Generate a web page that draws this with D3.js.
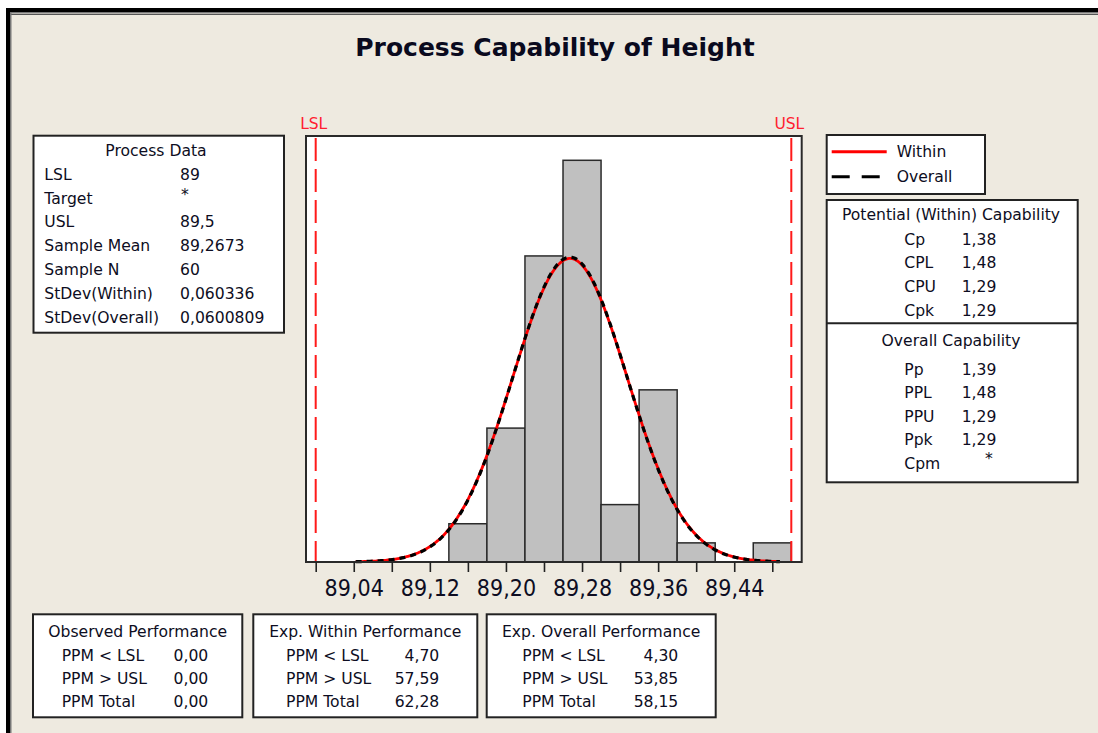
<!DOCTYPE html>
<html><head><meta charset="utf-8">
<script src="https://cdn.jsdelivr.net/npm/d3@7"></script>
<style>html,body{margin:0;padding:0;background:#fff;} svg{display:block;}</style>
</head><body><svg id="c" width="1098" height="733"></svg>
<script>
// ---------- data ----------
const binEdges = [89.14, 89.18, 89.22, 89.26, 89.30, 89.34, 89.38, 89.42, 89.46, 89.50];
const binCounts = [2, 7, 16, 21, 3, 9, 1, 0, 1];
const LSL = 89, USL = 89.5;
const sampleMean = 89.2673, sampleN = 60;
const sdWithin = 0.060336, sdOverall = 0.0600809;
const curveRange = [89.042, 89.488];
const tickValues = [89.00, 89.04, 89.08, 89.12, 89.16, 89.20, 89.24, 89.28, 89.32, 89.36, 89.40, 89.44, 89.48];
const labelledTicks = [89.04, 89.12, 89.20, 89.28, 89.36, 89.44];
const tickLabels = ["89,04", "89,12", "89,20", "89,28", "89,36", "89,44"];
const yMax = 22.27;

const processDataRows = [["LSL", "89"], ["Target", "*"], ["USL", "89,5"], ["Sample Mean", "89,2673"],
  ["Sample N", "60"], ["StDev(Within)", "0,060336"], ["StDev(Overall)", "0,0600809"]];
const potentialRows = [["Cp", "1,38"], ["CPL", "1,48"], ["CPU", "1,29"], ["Cpk", "1,29"]];
const overallRows = [["Pp", "1,39"], ["PPL", "1,48"], ["PPU", "1,29"], ["Ppk", "1,29"], ["Cpm", "*"]];
const observedRows = [["PPM < LSL", "0,00"], ["PPM > USL", "0,00"], ["PPM Total", "0,00"]];
const expWithinRows = [["PPM < LSL", "4,70"], ["PPM > USL", "57,59"], ["PPM Total", "62,28"]];
const expOverallRows = [["PPM < LSL", "4,30"], ["PPM > USL", "53,85"], ["PPM Total", "58,15"]];
const legendItems = [{name: "Within", color: "#ff0000", dash: null}, {name: "Overall", color: "#000", dash: "18,12"}];

// ---------- setup ----------
const svg = d3.select("#c");
const W = 1098, H = 733;
const FONT = "'DejaVu Sans', Verdana, sans-serif";
const TXT = "#0d0d22";
const BG = "#eeeae0";

svg.append("rect").attr("width", W).attr("height", H).attr("fill", "#fff");
svg.append("rect").attr("x", 10).attr("y", 12).attr("width", W - 10).attr("height", H - 12).attr("fill", BG);
// window borders
svg.append("rect").attr("x", 6).attr("y", 8).attr("width", W - 6).attr("height", 4).attr("fill", "#000");
svg.append("rect").attr("x", 6).attr("y", 8).attr("width", 4).attr("height", H - 8).attr("fill", "#000");
svg.append("rect").attr("x", 10).attr("y", 12).attr("width", W - 10).attr("height", 1.5).attr("fill", "#777");
svg.append("rect").attr("x", 10).attr("y", 14).attr("width", W - 10).attr("height", 1).attr("fill", "#555");
svg.append("rect").attr("x", 10).attr("y", 12).attr("width", 1.5).attr("height", H - 12).attr("fill", "#777");

// title
svg.append("text").attr("x", 555).attr("y", 56).attr("text-anchor", "middle")
  .attr("font-family", FONT).attr("font-weight", "bold").attr("font-size", 25)
  .attr("fill", "#0a0a1e").text("Process Capability of Height");

// ---------- plot ----------
const frame = {x0: 306, x1: 801.7, y0: 136, y1: 562};
const x = d3.scaleLinear().domain([LSL, USL]).range([315.7, 791.3]);
const y = d3.scaleLinear().domain([0, yMax]).range([frame.y1, frame.y0]);

svg.append("rect").attr("x", frame.x0).attr("y", frame.y0)
  .attr("width", frame.x1 - frame.x0).attr("height", frame.y1 - frame.y0)
  .attr("fill", "#fff");

const bins = binCounts.map((c, i) => ({x0: binEdges[i], x1: binEdges[i + 1], count: c}));
svg.append("g").selectAll("rect").data(bins.filter(d => d.count > 0)).join("rect")
  .attr("x", d => x(d.x0)).attr("y", d => y(d.count))
  .attr("width", d => x(d.x1) - x(d.x0)).attr("height", d => y(0) - y(d.count))
  .attr("fill", "#c0c0c0").attr("stroke", "#2a2a2a").attr("stroke-width", 1.5);

// spec lines
[[LSL, "LSL"], [USL, "USL"]].forEach(([v, lab]) => {
  svg.append("line").attr("x1", x(v)).attr("x2", x(v)).attr("y1", frame.y0 + 2).attr("y2", frame.y1)
    .attr("stroke", "#ff1a1a").attr("stroke-width", 2).attr("stroke-dasharray", "23,8");
  svg.append("text").attr("x", x(v) - 2).attr("y", 129).attr("text-anchor", "middle")
    .attr("font-family", FONT).attr("font-size", 15.5).attr("fill", "#ff2030").text(lab);
});

// fitted normal curves
const scaleFactor = sampleN * (binEdges[1] - binEdges[0]);
function normalPts(sd) {
  const n = 300, pts = [];
  for (let i = 0; i <= n; i++) {
    const v = curveRange[0] + (curveRange[1] - curveRange[0]) * i / n;
    const dens = Math.exp(-0.5 * Math.pow((v - sampleMean) / sd, 2)) / (sd * Math.sqrt(2 * Math.PI));
    pts.push([v, dens * scaleFactor]);
  }
  return pts;
}
const line = d3.line().x(d => x(d[0])).y(d => y(d[1])).curve(d3.curveLinear);
svg.append("path").attr("d", line(normalPts(sdWithin))).attr("fill", "none")
  .attr("stroke", "#ff0000").attr("stroke-width", 2.8);
svg.append("path").attr("d", line(normalPts(sdOverall))).attr("fill", "none")
  .attr("stroke", "#000").attr("stroke-width", 3.2).attr("stroke-dasharray", "6,5");

// frame border
svg.append("rect").attr("x", frame.x0).attr("y", frame.y0)
  .attr("width", frame.x1 - frame.x0).attr("height", frame.y1 - frame.y0)
  .attr("fill", "none").attr("stroke", "#2a2a2a").attr("stroke-width", 2);

// x axis
const axis = d3.axisBottom(x).tickValues(tickValues).tickSize(10).tickPadding(8)
  .tickFormat(v => { const i = labelledTicks.findIndex(t => Math.abs(t - v) < 1e-9); return i >= 0 ? tickLabels[i] : ""; });
const gx = svg.append("g").attr("transform", `translate(0,${frame.y1})`).call(axis);
gx.select(".domain").remove();
gx.selectAll(".tick line").attr("stroke", "#222").attr("stroke-width", 1.6);
gx.selectAll(".tick text").attr("font-family", FONT).attr("font-size", 23).attr("fill", TXT)
  .attr("transform", "scale(0.9,1)");

// ---------- boxes ----------
function box(x0, y0, w, h) {
  svg.append("rect").attr("x", x0).attr("y", y0).attr("width", w).attr("height", h)
    .attr("fill", "#fff").attr("stroke", "#222").attr("stroke-width", 2);
}
function txt(xp, yp, s, anchor) {
  return svg.append("text").attr("x", xp).attr("y", yp).attr("dy", "0.36em")
    .attr("text-anchor", anchor || "start").attr("font-family", FONT).attr("font-size", 15.6)
    .attr("fill", TXT).text(s);
}

// Process data
box(33.5, 135.7, 250.5, 197);
txt(156, 150, "Process Data", "middle");
processDataRows.forEach((r, i) => {
  const yy = 174 + i * 23.9;
  txt(44.3, yy, r[0]);
  if (r[1] === "*") txt(181, yy - 4, r[1]); else txt(180, yy, r[1]);
});

// Legend
box(826.7, 135, 158.3, 59);
legendItems.forEach((d, i) => {
  const yy = 151.7 + i * 25;
  const l = svg.append("line").attr("x1", 831.7).attr("x2", 886.7).attr("y1", yy).attr("y2", yy)
    .attr("stroke", d.color).attr("stroke-width", 3);
  if (d.dash) l.attr("stroke-dasharray", d.dash);
  txt(896.7, yy, d.name);
});

// Capability box
box(826.7, 200, 251, 282.3);
svg.append("line").attr("x1", 826.7).attr("x2", 1077.7).attr("y1", 323.3).attr("y2", 323.3)
  .attr("stroke", "#222").attr("stroke-width", 2);
txt(951, 214.3, "Potential (Within) Capability", "middle");
potentialRows.forEach((r, i) => {
  const yy = 239 + i * 23.7;
  txt(904.3, yy, r[0]); txt(961.7, yy, r[1]);
});
txt(951, 340.7, "Overall Capability", "middle");
overallRows.forEach((r, i) => {
  const yy = 369.3 + i * 23.5;
  txt(904.3, yy, r[0]);
  if (r[1] === "*") txt(989, yy - 5, r[1], "middle"); else txt(961.7, yy, r[1]);
});

// Bottom performance boxes
function perfBox(x0, w, title, rows, labX, valEnd) {
  box(x0, 614.3, w, 103);
  txt(x0 + w / 2, 631.7, title, "middle");
  rows.forEach((r, i) => {
    const yy = 655 + i * 23.4;
    txt(labX, yy, r[0]); txt(valEnd, yy, r[1], "end");
  });
}
perfBox(33, 209.3, "Observed Performance", observedRows, 61.7, 208.3);
perfBox(253.3, 224, "Exp. Within Performance", expWithinRows, 286, 439.3);
perfBox(486.7, 229, "Exp. Overall Performance", expOverallRows, 522.3, 678.3);
</script>
</body></html>
